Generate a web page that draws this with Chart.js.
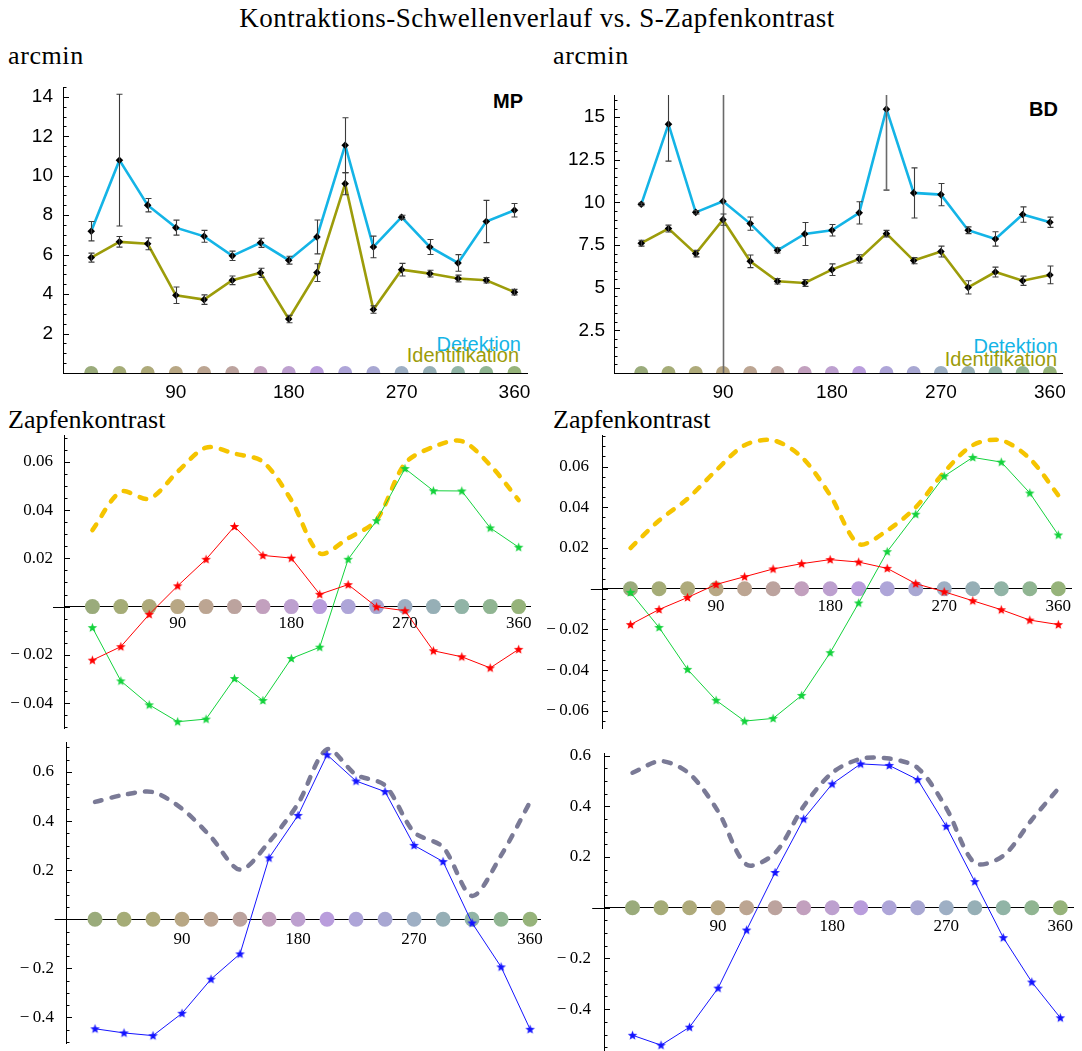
<!DOCTYPE html>
<html>
<head>
<meta charset="utf-8">
<title>Kontraktions-Schwellenverlauf vs. S-Zapfenkontrast</title>
<script src="https://cdn.jsdelivr.net/npm/chart.js@4.4.1/dist/chart.umd.min.js"></script>
<style>
  body { margin: 0; background: #fff; }
  #page { position: relative; width: 1082px; height: 1051px; overflow: hidden; background: #fff; }
  .t { position: absolute; white-space: nowrap; line-height: 1; }
  .serif { font-family: "Liberation Serif", serif; font-size: 26px; color: #000; }
  .sans { font-family: "Liberation Sans", Arial, sans-serif; font-size: 20px; }
  canvas { position: absolute; }
</style>
</head>
<body>
<div id="page">
  <div class="t serif" style="left:537px; top:5px; font-size:27px; letter-spacing:0.5px; transform:translateX(-50%);">Kontraktions-Schwellenverlauf vs. S-Zapfenkontrast</div>
  <div class="t serif" style="left:8px; top:43px; letter-spacing:0.6px;">arcmin</div>
  <div class="t serif" style="left:553px; top:43px; letter-spacing:0.6px;">arcmin</div>
  <div class="t serif" style="left:8px; top:407px;">Zapfenkontrast</div>
  <div class="t serif" style="left:553px; top:407px;">Zapfenkontrast</div>

  <div class="t sans" style="right:559px; top:91px; font-weight:bold;">MP</div>
  <div class="t sans" style="right:24px; top:99px; font-weight:bold;">BD</div>
  <div class="t sans" style="right:561px; top:334px; color:#14b4e6;">Detektion</div>
  <div class="t sans" style="right:563px; top:345px; color:#9c9c0a;">Identifikation</div>
  <div class="t sans" style="right:24px; top:336px; color:#14b4e6;">Detektion</div>
  <div class="t sans" style="right:25px; top:349px; color:#9c9c0a;">Identifikation</div>

  <canvas id="c1"></canvas>
  <canvas id="c2"></canvas>
  <canvas id="c3"></canvas>
  <canvas id="c4"></canvas>
  <canvas id="c5"></canvas>
  <canvas id="c6"></canvas>
</div>

<script>
// Hue angle of the stimulus (deg)
const angles = [22.5, 45, 67.5, 90, 112.5, 135, 157.5, 180, 202.5, 225, 247.5, 270, 292.5, 315, 337.5, 360];
const xTickValues = [90, 180, 270, 360];
const circleColors = ['#9aab7b', '#a5ac77', '#aeaa7a', '#b8a784', '#bca592', '#bca39e', '#c2a0be', '#bda0cf',
                      '#b99ddc', '#aea5d8', '#a8a7d2', '#9eafc4', '#96afb6', '#91b4a6', '#90b592', '#96b37a'];

// MP thresholds (arcmin) with error bars
const mpDet    = [7.19, 10.79, 8.51, 7.37, 6.93, 5.94, 6.6, 5.72, 6.9, 11.55, 6.39, 7.9, 6.39, 5.58, 7.68, 8.25];
const mpDetErr = [0.49, 3.34, 0.34, 0.38, 0.3, 0.24, 0.23, 0.2, 0.86, 1.39, 0.55, 0.1, 0.38, 0.42, 1.07, 0.34];
const mpId     = [5.85, 6.65, 6.55, 3.94, 3.72, 4.7, 5.08, 2.74, 5.09, 9.6, 3.22, 5.24, 5.04, 4.79, 4.7, 4.1];
const mpIdErr  = [0.23, 0.27, 0.3, 0.42, 0.24, 0.22, 0.23, 0.19, 0.45, 0.56, 0.19, 0.32, 0.17, 0.17, 0.14, 0.14];

// BD thresholds (arcmin) with error bars
const bdDet    = [9.89, 14.59, 9.42, 10.07, 8.76, 7.19, 8.15, 8.37, 9.39, 15.47, 10.56, 10.46, 8.37, 7.86, 9.29, 8.84];
const bdDetErr = [0.08, 2.17, 0.1, 20, 0.39, 0.15, 0.67, 0.34, 0.65, 4.75, 1.47, 0.65, 0.2, 0.42, 0.45, 0.3];
const bdId     = [7.61, 8.47, 7.0, 8.99, 6.55, 5.38, 5.28, 6.06, 6.69, 8.17, 6.59, 7.12, 5.02, 5.92, 5.41, 5.75];
const bdIdErr  = [0.17, 0.2, 0.19, 0.33, 0.37, 0.16, 0.2, 0.34, 0.24, 0.19, 0.18, 0.32, 0.39, 0.29, 0.27, 0.52];

// L / M cone contrast and their envelope
const mpL  = [-0.0222, -0.0166, -0.0032, 0.0086, 0.0196, 0.0332, 0.0212, 0.0201, 0.0051, 0.0091, -0.0001, -0.0017, -0.0183, -0.0208, -0.0254, -0.0177];
const mpM  = [-0.0087, -0.0308, -0.0407, -0.0477, -0.0466, -0.0298, -0.0389, -0.0215, -0.0168, 0.0196, 0.0356, 0.0572, 0.048, 0.0479, 0.0326, 0.0246];
const mpLM = [0.0317, 0.0476, 0.0447, 0.0559, 0.0659, 0.0634, 0.06, 0.0441, 0.0221, 0.0283, 0.0359, 0.0593, 0.0662, 0.0686, 0.0586, 0.0441];
const bdL  = [-0.0176, -0.0102, -0.0043, 0.0021, 0.0059, 0.0097, 0.0123, 0.0143, 0.0131, 0.01, 0.0025, -0.0015, -0.0059, -0.0103, -0.0154, -0.0176];
const bdM  = [-0.0018, -0.019, -0.0396, -0.0548, -0.065, -0.0637, -0.0524, -0.0314, -0.007, 0.0182, 0.0366, 0.0553, 0.0645, 0.0622, 0.047, 0.0264];
const bdLM = [0.02, 0.0335, 0.0442, 0.0581, 0.0705, 0.0729, 0.0647, 0.0459, 0.022, 0.0286, 0.04, 0.0573, 0.0705, 0.0729, 0.0639, 0.0459];

// S cone contrast and its magnitude
const mpS    = [-0.446, -0.463, -0.474, -0.383, -0.244, -0.141, 0.25, 0.423, 0.67, 0.563, 0.52, 0.301, 0.235, -0.015, -0.194, -0.448];
const mpSabs = [0.478, 0.507, 0.518, 0.45, 0.335, 0.202, 0.315, 0.471, 0.692, 0.589, 0.545, 0.355, 0.294, 0.095, 0.26, 0.478];
const bdS    = [-0.503, -0.542, -0.471, -0.317, -0.088, 0.139, 0.35, 0.488, 0.567, 0.561, 0.505, 0.321, 0.103, -0.118, -0.293, -0.434];
const bdSabs = [0.532, 0.578, 0.528, 0.38, 0.17, 0.216, 0.4, 0.532, 0.587, 0.588, 0.551, 0.393, 0.176, 0.205, 0.347, 0.479];

const SERIF = 'Liberation Serif';
const SANS = 'Liberation Sans';

function pts(arr) {
  return angles.map((a, i) => ({ x: a, y: arr[i] }));
}

function makeStar(color) {
  const c = document.createElement('canvas');
  c.width = 11; c.height = 11;
  const g = c.getContext('2d');
  g.beginPath();
  for (let k = 0; k < 10; k++) {
    const r = k % 2 ? 2.1 : 5;
    const a = -Math.PI / 2 + k * Math.PI / 5;
    g.lineTo(5.5 + r * Math.cos(a), 5.8 + r * Math.sin(a));
  }
  g.closePath();
  g.fillStyle = color;
  g.fill();
  return c;
}

// error bars, drawn through the scales
const errorBars = {
  id: 'errorBars',
  afterDatasetsDraw(chart) {
    const { ctx, chartArea: a, scales: { x, y } } = chart;
    ctx.save();
    ctx.beginPath();
    ctx.rect(a.left, a.top, a.right - a.left, a.bottom - a.top);
    ctx.clip();
    chart.data.datasets.forEach(ds => {
      if (!ds.errors) return;
      ds.data.forEach((p, i) => {
        const e = ds.errors[i];
        const px = Math.round(x.getPixelForValue(p.x)) + 0.5;
        const y1 = y.getPixelForValue(p.y + e);
        const y2 = y.getPixelForValue(p.y - e);
        // very long bars are drawn lighter, as in the original
        const long = Math.abs(y2 - y1) > 150;
        ctx.strokeStyle = long ? '#6a6a6a' : '#3c3c3c';
        ctx.lineWidth = long ? 1.6 : 1.1;
        ctx.beginPath();
        ctx.moveTo(px, y1); ctx.lineTo(px, y2);
        ctx.moveTo(px - 3, y1); ctx.lineTo(px + 3, y1);
        ctx.moveTo(px - 3, y2); ctx.lineTo(px + 3, y2);
        ctx.stroke();
      });
    });
    ctx.restore();
  }
};

// inward ticks on the y axis, and the zero line reaching left of it
const axisTicks = {
  id: 'axisTicks',
  beforeDatasetsDraw(chart, args, opts) {
    const { ctx, chartArea: a, scales: { x, y } } = chart;
    ctx.save();
    ctx.strokeStyle = '#000';
    ctx.lineWidth = 1;
    if (opts.extend !== undefined) {
      const y0 = Math.round(y.getPixelForValue(0)) + 0.5;
      ctx.beginPath();
      ctx.moveTo(x.getPixelForValue(opts.extend), y0);
      ctx.lineTo(a.left, y0);
      ctx.stroke();
    }
    const start = Math.ceil(y.min / opts.minor - 1e-6);
    for (let k = start; k * opts.minor <= y.max + 1e-9; k++) {
      const v = k * opts.minor;
      const r = v / opts.major;
      const isMajor = Math.abs(r - Math.round(r)) < 1e-6;
      const py = Math.round(y.getPixelForValue(v)) + 0.5;
      ctx.beginPath();
      ctx.moveTo(a.left, py);
      ctx.lineTo(a.left + (isMajor ? 6 : 3.5), py);
      ctx.stroke();
    }
    ctx.restore();
  }
};

// page position of each plot area
const areas = {
  c1: { left: 63, right: 527, top: 87, bottom: 373 },
  c2: { left: 614, right: 1062, top: 95, bottom: 373 },
  c3: { left: 64, right: 530, top: 435, bottom: 728 },
  c4: { left: 602, right: 1071, top: 435, bottom: 728 },
  c5: { left: 66, right: 540, top: 742, bottom: 1043 },
  c6: { left: 604, right: 1073, top: 753, bottom: 1051 }
};

function makeChart(id, cfg) {
  const a = areas[id];
  const pad = { left: 0, top: 32, right: 25, bottom: 40 };
  const yw = 70;
  const cv = document.getElementById(id);
  cv.width = a.right - a.left + yw + pad.right;
  cv.height = a.bottom - a.top + pad.top + pad.bottom;
  cv.style.left = (a.left - yw) + 'px';
  cv.style.top = (a.top - pad.top) + 'px';
  const tickFont = { family: cfg.fontFamily, size: cfg.fontSize };
  return new Chart(cv.getContext('2d'), {
    type: 'scatter',
    data: { datasets: cfg.datasets },
    options: {
      responsive: false,
      animation: false,
      devicePixelRatio: 1,
      events: [],
      layout: { padding: pad },
      plugins: {
        legend: { display: false },
        tooltip: { enabled: false },
        axisTicks: cfg.ticks
      },
      scales: {
        x: {
          type: 'linear',
          position: { y: 0 },
          min: 0,
          max: cfg.xMax,
          afterBuildTicks: s => { s.ticks = xTickValues.map(v => ({ value: v })); },
          grid: { display: false, drawTicks: false },
          border: { display: true, color: '#000', width: 1 },
          ticks: {
            padding: cfg.xPad,
            color: '#000',
            font: tickFont,
            maxRotation: 0,
            autoSkip: false,
            callback: v => String(v)
          }
        },
        y: {
          type: 'linear',
          position: 'left',
          min: cfg.yMin,
          max: cfg.yMax,
          afterFit: s => { s.width = yw; },
          grid: { display: false, drawTicks: false },
          border: { display: true, color: '#000', width: 1 },
          ticks: {
            stepSize: cfg.ticks.major,
            includeBounds: false,
            padding: cfg.yPad,
            color: '#000',
            font: tickFont,
            callback: cfg.yLabel
          }
        }
      }
    },
    plugins: [axisTicks, errorBars]
  });
}

function circles(r) {
  return {
    data: pts(angles.map(() => 0)),
    showLine: false,
    pointRadius: r,
    pointBackgroundColor: circleColors,
    pointBorderWidth: 0,
    order: 10
  };
}

function threshold(values, errs, color) {
  return {
    data: pts(values),
    errors: errs,
    showLine: true,
    borderColor: color,
    borderWidth: 2.6,
    tension: 0,
    pointStyle: 'rectRot',
    pointRadius: 3.8,
    pointBackgroundColor: '#000',
    pointBorderColor: '#000',
    pointBorderWidth: 0,
    order: 1
  };
}

function starLine(values, color) {
  return {
    data: pts(values),
    showLine: true,
    borderColor: color,
    borderWidth: 1,
    tension: 0,
    pointStyle: makeStar(color),
    order: 1
  };
}

function dashed(values, color) {
  return {
    data: pts(values),
    showLine: true,
    borderColor: color,
    borderWidth: 4.5,
    borderDash: [7, 10],
    borderCapStyle: 'round',
    tension: 0.3,
    pointRadius: 0,
    order: 2
  };
}

const fmtPlain = v => (v === 0 ? '' : String(+v.toFixed(1)));
const fmtSigned = d => v => {
  if (Math.abs(v) < 1e-9) return '';
  return (v < 0 ? '\u2212\u2009' : '') + Math.abs(v).toFixed(d);
};

makeChart('c1', {
  datasets: [threshold(mpDet, mpDetErr, '#14b4e6'), threshold(mpId, mpIdErr, '#9c9c0a'), circles(7)],
  xMax: 370, yMin: 0, yMax: 14.5,
  fontFamily: SANS, fontSize: 19, xPad: 8, yPad: 10,
  ticks: { major: 2, minor: 0.5 },
  yLabel: fmtPlain
});

makeChart('c2', {
  datasets: [threshold(bdDet, bdDetErr, '#14b4e6'), threshold(bdId, bdIdErr, '#9c9c0a'), circles(7)],
  xMax: 370, yMin: 0, yMax: 16.3,
  fontFamily: SANS, fontSize: 19, xPad: 8, yPad: 9,
  ticks: { major: 2.5, minor: 0.5 },
  yLabel: fmtPlain
});

makeChart('c3', {
  datasets: [starLine(mpL, '#ff0000'), starLine(mpM, '#14d23c'), dashed(mpLM, '#f5c400'), circles(7.5)],
  xMax: 369, yMin: -0.0503, yMax: 0.0711,
  fontFamily: SERIF, fontSize: 17, xPad: 7, yPad: 11,
  ticks: { major: 0.02, minor: 0.005, extend: -8.7 },
  yLabel: fmtSigned(2)
});

makeChart('c4', {
  datasets: [starLine(bdL, '#ff0000'), starLine(bdM, '#14d23c'), dashed(bdLM, '#f5c400'), circles(7.5)],
  xMax: 370, yMin: -0.0684, yMax: 0.0755,
  fontFamily: SERIF, fontSize: 17, xPad: 8, yPad: 13,
  ticks: { major: 0.02, minor: 0.005, extend: -8.8 },
  yLabel: fmtSigned(2)
});

makeChart('c5', {
  datasets: [starLine(mpS, '#1414ff'), dashed(mpSabs, '#7a7a96'), circles(7.5)],
  xMax: 367.7, yMin: -0.504, yMax: 0.722,
  fontFamily: SERIF, fontSize: 17, xPad: 10, yPad: 12,
  ticks: { major: 0.2, minor: 0.05, extend: -8.8 },
  yLabel: fmtSigned(1)
});

makeChart('c6', {
  datasets: [starLine(bdS, '#1414ff'), dashed(bdSabs, '#7a7a96'), circles(7.5)],
  xMax: 370, yMin: -0.565, yMax: 0.61,
  fontFamily: SERIF, fontSize: 17, xPad: 9, yPad: 13,
  ticks: { major: 0.2, minor: 0.05, extend: -9.3 },
  yLabel: fmtSigned(1)
});
</script>
</body>
</html>
